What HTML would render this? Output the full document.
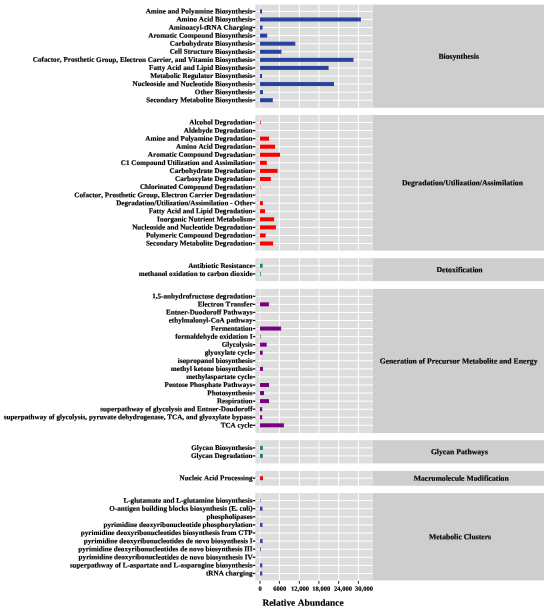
<!DOCTYPE html><html><head><meta charset="utf-8"><style>html,body{margin:0;padding:0;background:#fff;}svg{display:block;}text{font-family:"Liberation Serif",serif;font-weight:bold;fill:#000;stroke:#000;stroke-width:0.18px;font-kerning:none;text-rendering:geometricPrecision;}</style></head><body>
<svg width="550" height="611" viewBox="0 0 550 611">
<rect x="0" y="0" width="550" height="611" fill="#fff"/>
<rect x="255.3" y="4.60" width="117.70" height="103.20" fill="#dddddd"/>
<rect x="373" y="4.60" width="171.00" height="103.20" fill="#cecece"/>
<rect x="259.50" y="4.60" width="1" height="103.20" fill="#fff" fill-opacity="0.55"/>
<rect x="278.90" y="4.60" width="1" height="103.20" fill="#fff" fill-opacity="1"/>
<rect x="298.90" y="4.60" width="1" height="103.20" fill="#fff" fill-opacity="1"/>
<rect x="318.40" y="4.60" width="1" height="103.20" fill="#fff" fill-opacity="1"/>
<rect x="338.10" y="4.60" width="1" height="103.20" fill="#fff" fill-opacity="1"/>
<rect x="357.90" y="4.60" width="1" height="103.20" fill="#fff" fill-opacity="1"/>
<rect x="255.3" y="10.90" width="117.70" height="1" fill="#fff"/>
<rect x="260.0" y="9.40" width="2.00" height="4.0" fill="#28439a"/>
<rect x="252.8" y="10.75" width="2.50" height="1.3" fill="#1a1a1a"/>
<rect x="255.3" y="18.97" width="117.70" height="1" fill="#fff"/>
<rect x="260.0" y="17.47" width="100.90" height="4.0" fill="#28439a"/>
<rect x="252.8" y="18.82" width="2.50" height="1.3" fill="#1a1a1a"/>
<rect x="255.3" y="27.05" width="117.70" height="1" fill="#fff"/>
<rect x="260.0" y="25.55" width="2.50" height="4.0" fill="#28439a"/>
<rect x="252.8" y="26.90" width="2.50" height="1.3" fill="#1a1a1a"/>
<rect x="255.3" y="35.12" width="117.70" height="1" fill="#fff"/>
<rect x="260.0" y="33.62" width="7.20" height="4.0" fill="#28439a"/>
<rect x="252.8" y="34.97" width="2.50" height="1.3" fill="#1a1a1a"/>
<rect x="255.3" y="43.19" width="117.70" height="1" fill="#fff"/>
<rect x="260.0" y="41.69" width="35.30" height="4.0" fill="#28439a"/>
<rect x="252.8" y="43.04" width="2.50" height="1.3" fill="#1a1a1a"/>
<rect x="255.3" y="51.27" width="117.70" height="1" fill="#fff"/>
<rect x="260.0" y="49.77" width="21.40" height="4.0" fill="#28439a"/>
<rect x="252.8" y="51.12" width="2.50" height="1.3" fill="#1a1a1a"/>
<rect x="255.3" y="59.34" width="117.70" height="1" fill="#fff"/>
<rect x="260.0" y="57.84" width="93.50" height="4.0" fill="#28439a"/>
<rect x="252.8" y="59.19" width="2.50" height="1.3" fill="#1a1a1a"/>
<rect x="255.3" y="67.41" width="117.70" height="1" fill="#fff"/>
<rect x="260.0" y="65.91" width="68.60" height="4.0" fill="#28439a"/>
<rect x="252.8" y="67.26" width="2.50" height="1.3" fill="#1a1a1a"/>
<rect x="255.3" y="75.48" width="117.70" height="1" fill="#fff"/>
<rect x="260.0" y="73.98" width="2.00" height="4.0" fill="#28439a"/>
<rect x="252.8" y="75.33" width="2.50" height="1.3" fill="#1a1a1a"/>
<rect x="255.3" y="83.56" width="117.70" height="1" fill="#fff"/>
<rect x="260.0" y="82.06" width="74.00" height="4.0" fill="#28439a"/>
<rect x="252.8" y="83.41" width="2.50" height="1.3" fill="#1a1a1a"/>
<rect x="255.3" y="91.63" width="117.70" height="1" fill="#fff"/>
<rect x="260.0" y="90.13" width="3.00" height="4.0" fill="#28439a"/>
<rect x="252.8" y="91.48" width="2.50" height="1.3" fill="#1a1a1a"/>
<rect x="255.3" y="99.70" width="117.70" height="1" fill="#fff"/>
<rect x="260.0" y="98.20" width="12.80" height="4.0" fill="#28439a"/>
<rect x="252.8" y="99.55" width="2.50" height="1.3" fill="#1a1a1a"/>
<rect x="255.3" y="114.95" width="117.70" height="135.65" fill="#dddddd"/>
<rect x="373" y="114.95" width="171.00" height="135.65" fill="#cecece"/>
<rect x="259.50" y="114.95" width="1" height="135.65" fill="#fff" fill-opacity="0.55"/>
<rect x="278.90" y="114.95" width="1" height="135.65" fill="#fff" fill-opacity="1"/>
<rect x="298.90" y="114.95" width="1" height="135.65" fill="#fff" fill-opacity="1"/>
<rect x="318.40" y="114.95" width="1" height="135.65" fill="#fff" fill-opacity="1"/>
<rect x="338.10" y="114.95" width="1" height="135.65" fill="#fff" fill-opacity="1"/>
<rect x="357.90" y="114.95" width="1" height="135.65" fill="#fff" fill-opacity="1"/>
<rect x="255.3" y="122.00" width="117.70" height="1" fill="#fff"/>
<rect x="260.0" y="120.50" width="0.70" height="4.0" fill="#ff0000"/>
<rect x="252.8" y="121.85" width="2.50" height="1.3" fill="#1a1a1a"/>
<rect x="255.3" y="130.07" width="117.70" height="1" fill="#fff"/>
<rect x="252.8" y="129.92" width="2.50" height="1.3" fill="#1a1a1a"/>
<rect x="255.3" y="138.13" width="117.70" height="1" fill="#fff"/>
<rect x="260.0" y="136.63" width="9.00" height="4.0" fill="#ff0000"/>
<rect x="252.8" y="137.98" width="2.50" height="1.3" fill="#1a1a1a"/>
<rect x="255.3" y="146.20" width="117.70" height="1" fill="#fff"/>
<rect x="260.0" y="144.70" width="15.10" height="4.0" fill="#ff0000"/>
<rect x="252.8" y="146.05" width="2.50" height="1.3" fill="#1a1a1a"/>
<rect x="255.3" y="154.27" width="117.70" height="1" fill="#fff"/>
<rect x="260.0" y="152.77" width="20.00" height="4.0" fill="#ff0000"/>
<rect x="252.8" y="154.12" width="2.50" height="1.3" fill="#1a1a1a"/>
<rect x="255.3" y="162.34" width="117.70" height="1" fill="#fff"/>
<rect x="260.0" y="160.84" width="6.80" height="4.0" fill="#ff0000"/>
<rect x="252.8" y="162.19" width="2.50" height="1.3" fill="#1a1a1a"/>
<rect x="255.3" y="170.40" width="117.70" height="1" fill="#fff"/>
<rect x="260.0" y="168.90" width="17.60" height="4.0" fill="#ff0000"/>
<rect x="252.8" y="170.25" width="2.50" height="1.3" fill="#1a1a1a"/>
<rect x="255.3" y="178.47" width="117.70" height="1" fill="#fff"/>
<rect x="260.0" y="176.97" width="10.80" height="4.0" fill="#ff0000"/>
<rect x="252.8" y="178.32" width="2.50" height="1.3" fill="#1a1a1a"/>
<rect x="255.3" y="186.54" width="117.70" height="1" fill="#fff"/>
<rect x="260.0" y="185.04" width="0.30" height="4.0" fill="#ff0000"/>
<rect x="252.8" y="186.39" width="2.50" height="1.3" fill="#1a1a1a"/>
<rect x="255.3" y="194.60" width="117.70" height="1" fill="#fff"/>
<rect x="252.8" y="194.45" width="2.50" height="1.3" fill="#1a1a1a"/>
<rect x="255.3" y="202.67" width="117.70" height="1" fill="#fff"/>
<rect x="260.0" y="201.17" width="2.90" height="4.0" fill="#ff0000"/>
<rect x="252.8" y="202.52" width="2.50" height="1.3" fill="#1a1a1a"/>
<rect x="255.3" y="210.74" width="117.70" height="1" fill="#fff"/>
<rect x="260.0" y="209.24" width="5.00" height="4.0" fill="#ff0000"/>
<rect x="252.8" y="210.59" width="2.50" height="1.3" fill="#1a1a1a"/>
<rect x="255.3" y="218.80" width="117.70" height="1" fill="#fff"/>
<rect x="260.0" y="217.30" width="14.10" height="4.0" fill="#ff0000"/>
<rect x="252.8" y="218.65" width="2.50" height="1.3" fill="#1a1a1a"/>
<rect x="255.3" y="226.87" width="117.70" height="1" fill="#fff"/>
<rect x="260.0" y="225.37" width="15.90" height="4.0" fill="#ff0000"/>
<rect x="252.8" y="226.72" width="2.50" height="1.3" fill="#1a1a1a"/>
<rect x="255.3" y="234.94" width="117.70" height="1" fill="#fff"/>
<rect x="260.0" y="233.44" width="5.60" height="4.0" fill="#ff0000"/>
<rect x="252.8" y="234.79" width="2.50" height="1.3" fill="#1a1a1a"/>
<rect x="255.3" y="243.00" width="117.70" height="1" fill="#fff"/>
<rect x="260.0" y="241.50" width="13.10" height="4.0" fill="#ff0000"/>
<rect x="252.8" y="242.85" width="2.50" height="1.3" fill="#1a1a1a"/>
<rect x="255.3" y="258.20" width="117.70" height="22.90" fill="#dddddd"/>
<rect x="373" y="258.20" width="171.00" height="22.90" fill="#cecece"/>
<rect x="259.50" y="258.20" width="1" height="22.90" fill="#fff" fill-opacity="0.55"/>
<rect x="278.90" y="258.20" width="1" height="22.90" fill="#fff" fill-opacity="1"/>
<rect x="298.90" y="258.20" width="1" height="22.90" fill="#fff" fill-opacity="1"/>
<rect x="318.40" y="258.20" width="1" height="22.90" fill="#fff" fill-opacity="1"/>
<rect x="338.10" y="258.20" width="1" height="22.90" fill="#fff" fill-opacity="1"/>
<rect x="357.90" y="258.20" width="1" height="22.90" fill="#fff" fill-opacity="1"/>
<rect x="255.3" y="265.30" width="117.70" height="1" fill="#fff"/>
<rect x="260.0" y="263.80" width="2.60" height="4.0" fill="#0c8f42"/>
<rect x="252.8" y="265.15" width="2.50" height="1.3" fill="#1a1a1a"/>
<rect x="255.3" y="273.40" width="117.70" height="1" fill="#fff"/>
<rect x="260.0" y="271.90" width="0.80" height="4.0" fill="#0c8f42"/>
<rect x="252.8" y="273.25" width="2.50" height="1.3" fill="#1a1a1a"/>
<rect x="255.3" y="288.90" width="117.70" height="144.10" fill="#dddddd"/>
<rect x="373" y="288.90" width="171.00" height="144.10" fill="#cecece"/>
<rect x="259.50" y="288.90" width="1" height="144.10" fill="#fff" fill-opacity="0.55"/>
<rect x="278.90" y="288.90" width="1" height="144.10" fill="#fff" fill-opacity="1"/>
<rect x="298.90" y="288.90" width="1" height="144.10" fill="#fff" fill-opacity="1"/>
<rect x="318.40" y="288.90" width="1" height="144.10" fill="#fff" fill-opacity="1"/>
<rect x="338.10" y="288.90" width="1" height="144.10" fill="#fff" fill-opacity="1"/>
<rect x="357.90" y="288.90" width="1" height="144.10" fill="#fff" fill-opacity="1"/>
<rect x="255.3" y="295.80" width="117.70" height="1" fill="#fff"/>
<rect x="252.8" y="295.65" width="2.50" height="1.3" fill="#1a1a1a"/>
<rect x="255.3" y="303.86" width="117.70" height="1" fill="#fff"/>
<rect x="260.0" y="302.36" width="8.90" height="4.0" fill="#7a0082"/>
<rect x="252.8" y="303.71" width="2.50" height="1.3" fill="#1a1a1a"/>
<rect x="255.3" y="311.93" width="117.70" height="1" fill="#fff"/>
<rect x="252.8" y="311.78" width="2.50" height="1.3" fill="#1a1a1a"/>
<rect x="255.3" y="319.99" width="117.70" height="1" fill="#fff"/>
<rect x="252.8" y="319.84" width="2.50" height="1.3" fill="#1a1a1a"/>
<rect x="255.3" y="328.06" width="117.70" height="1" fill="#fff"/>
<rect x="260.0" y="326.56" width="21.10" height="4.0" fill="#7a0082"/>
<rect x="252.8" y="327.91" width="2.50" height="1.3" fill="#1a1a1a"/>
<rect x="255.3" y="336.12" width="117.70" height="1" fill="#fff"/>
<rect x="260.0" y="334.62" width="0.50" height="4.0" fill="#7a0082"/>
<rect x="252.8" y="335.97" width="2.50" height="1.3" fill="#1a1a1a"/>
<rect x="255.3" y="344.18" width="117.70" height="1" fill="#fff"/>
<rect x="260.0" y="342.68" width="6.70" height="4.0" fill="#7a0082"/>
<rect x="252.8" y="344.03" width="2.50" height="1.3" fill="#1a1a1a"/>
<rect x="255.3" y="352.25" width="117.70" height="1" fill="#fff"/>
<rect x="260.0" y="350.75" width="2.70" height="4.0" fill="#7a0082"/>
<rect x="252.8" y="352.10" width="2.50" height="1.3" fill="#1a1a1a"/>
<rect x="255.3" y="360.31" width="117.70" height="1" fill="#fff"/>
<rect x="252.8" y="360.16" width="2.50" height="1.3" fill="#1a1a1a"/>
<rect x="255.3" y="368.38" width="117.70" height="1" fill="#fff"/>
<rect x="260.0" y="366.88" width="2.90" height="4.0" fill="#7a0082"/>
<rect x="252.8" y="368.23" width="2.50" height="1.3" fill="#1a1a1a"/>
<rect x="255.3" y="376.44" width="117.70" height="1" fill="#fff"/>
<rect x="252.8" y="376.29" width="2.50" height="1.3" fill="#1a1a1a"/>
<rect x="255.3" y="384.50" width="117.70" height="1" fill="#fff"/>
<rect x="260.0" y="383.00" width="9.00" height="4.0" fill="#7a0082"/>
<rect x="252.8" y="384.35" width="2.50" height="1.3" fill="#1a1a1a"/>
<rect x="255.3" y="392.57" width="117.70" height="1" fill="#fff"/>
<rect x="260.0" y="391.07" width="4.00" height="4.0" fill="#7a0082"/>
<rect x="252.8" y="392.42" width="2.50" height="1.3" fill="#1a1a1a"/>
<rect x="255.3" y="400.63" width="117.70" height="1" fill="#fff"/>
<rect x="260.0" y="399.13" width="9.00" height="4.0" fill="#7a0082"/>
<rect x="252.8" y="400.48" width="2.50" height="1.3" fill="#1a1a1a"/>
<rect x="255.3" y="408.70" width="117.70" height="1" fill="#fff"/>
<rect x="260.0" y="407.20" width="2.20" height="4.0" fill="#7a0082"/>
<rect x="252.8" y="408.55" width="2.50" height="1.3" fill="#1a1a1a"/>
<rect x="255.3" y="416.76" width="117.70" height="1" fill="#fff"/>
<rect x="260.0" y="415.26" width="2.20" height="4.0" fill="#7a0082"/>
<rect x="252.8" y="416.61" width="2.50" height="1.3" fill="#1a1a1a"/>
<rect x="255.3" y="424.82" width="117.70" height="1" fill="#fff"/>
<rect x="260.0" y="423.32" width="23.90" height="4.0" fill="#7a0082"/>
<rect x="252.8" y="424.67" width="2.50" height="1.3" fill="#1a1a1a"/>
<rect x="255.3" y="440.20" width="117.70" height="23.20" fill="#dddddd"/>
<rect x="373" y="440.20" width="171.00" height="23.20" fill="#cecece"/>
<rect x="259.50" y="440.20" width="1" height="23.20" fill="#fff" fill-opacity="0.55"/>
<rect x="278.90" y="440.20" width="1" height="23.20" fill="#fff" fill-opacity="1"/>
<rect x="298.90" y="440.20" width="1" height="23.20" fill="#fff" fill-opacity="1"/>
<rect x="318.40" y="440.20" width="1" height="23.20" fill="#fff" fill-opacity="1"/>
<rect x="338.10" y="440.20" width="1" height="23.20" fill="#fff" fill-opacity="1"/>
<rect x="357.90" y="440.20" width="1" height="23.20" fill="#fff" fill-opacity="1"/>
<rect x="255.3" y="447.40" width="117.70" height="1" fill="#fff"/>
<rect x="260.0" y="445.90" width="2.80" height="4.0" fill="#0f7f7c"/>
<rect x="252.8" y="447.25" width="2.50" height="1.3" fill="#1a1a1a"/>
<rect x="255.3" y="455.40" width="117.70" height="1" fill="#fff"/>
<rect x="260.0" y="453.90" width="2.80" height="4.0" fill="#0f7f7c"/>
<rect x="252.8" y="455.25" width="2.50" height="1.3" fill="#1a1a1a"/>
<rect x="255.3" y="470.90" width="117.70" height="14.80" fill="#dddddd"/>
<rect x="373" y="470.90" width="171.00" height="14.80" fill="#cecece"/>
<rect x="259.50" y="470.90" width="1" height="14.80" fill="#fff" fill-opacity="0.55"/>
<rect x="278.90" y="470.90" width="1" height="14.80" fill="#fff" fill-opacity="1"/>
<rect x="298.90" y="470.90" width="1" height="14.80" fill="#fff" fill-opacity="1"/>
<rect x="318.40" y="470.90" width="1" height="14.80" fill="#fff" fill-opacity="1"/>
<rect x="338.10" y="470.90" width="1" height="14.80" fill="#fff" fill-opacity="1"/>
<rect x="357.90" y="470.90" width="1" height="14.80" fill="#fff" fill-opacity="1"/>
<rect x="255.3" y="477.70" width="117.70" height="1" fill="#fff"/>
<rect x="260.0" y="476.20" width="3.00" height="4.0" fill="#e0101e"/>
<rect x="252.8" y="477.55" width="2.50" height="1.3" fill="#1a1a1a"/>
<rect x="255.3" y="493.10" width="117.70" height="87.30" fill="#dddddd"/>
<rect x="373" y="493.10" width="171.00" height="87.30" fill="#cecece"/>
<rect x="259.50" y="493.10" width="1" height="87.30" fill="#fff" fill-opacity="0.55"/>
<rect x="278.90" y="493.10" width="1" height="87.30" fill="#fff" fill-opacity="1"/>
<rect x="298.90" y="493.10" width="1" height="87.30" fill="#fff" fill-opacity="1"/>
<rect x="318.40" y="493.10" width="1" height="87.30" fill="#fff" fill-opacity="1"/>
<rect x="338.10" y="493.10" width="1" height="87.30" fill="#fff" fill-opacity="1"/>
<rect x="357.90" y="493.10" width="1" height="87.30" fill="#fff" fill-opacity="1"/>
<rect x="255.3" y="500.10" width="117.70" height="1" fill="#fff"/>
<rect x="260.0" y="498.60" width="0.40" height="4.0" fill="#4c3ca0"/>
<rect x="252.8" y="499.95" width="2.50" height="1.3" fill="#1a1a1a"/>
<rect x="255.3" y="508.20" width="117.70" height="1" fill="#fff"/>
<rect x="260.0" y="506.70" width="2.50" height="4.0" fill="#4c3ca0"/>
<rect x="252.8" y="508.05" width="2.50" height="1.3" fill="#1a1a1a"/>
<rect x="255.3" y="516.30" width="117.70" height="1" fill="#fff"/>
<rect x="252.8" y="516.15" width="2.50" height="1.3" fill="#1a1a1a"/>
<rect x="255.3" y="524.40" width="117.70" height="1" fill="#fff"/>
<rect x="260.0" y="522.90" width="2.50" height="4.0" fill="#4c3ca0"/>
<rect x="252.8" y="524.25" width="2.50" height="1.3" fill="#1a1a1a"/>
<rect x="255.3" y="532.50" width="117.70" height="1" fill="#fff"/>
<rect x="252.8" y="532.35" width="2.50" height="1.3" fill="#1a1a1a"/>
<rect x="255.3" y="540.60" width="117.70" height="1" fill="#fff"/>
<rect x="260.0" y="539.10" width="2.60" height="4.0" fill="#4c3ca0"/>
<rect x="252.8" y="540.45" width="2.50" height="1.3" fill="#1a1a1a"/>
<rect x="255.3" y="548.70" width="117.70" height="1" fill="#fff"/>
<rect x="260.0" y="547.20" width="0.80" height="4.0" fill="#4c3ca0"/>
<rect x="252.8" y="548.55" width="2.50" height="1.3" fill="#1a1a1a"/>
<rect x="255.3" y="556.80" width="117.70" height="1" fill="#fff"/>
<rect x="252.8" y="556.65" width="2.50" height="1.3" fill="#1a1a1a"/>
<rect x="255.3" y="564.90" width="117.70" height="1" fill="#fff"/>
<rect x="260.0" y="563.40" width="2.30" height="4.0" fill="#4c3ca0"/>
<rect x="252.8" y="564.75" width="2.50" height="1.3" fill="#1a1a1a"/>
<rect x="255.3" y="573.00" width="117.70" height="1" fill="#fff"/>
<rect x="260.0" y="571.50" width="2.30" height="4.0" fill="#4c3ca0"/>
<rect x="252.8" y="572.85" width="2.50" height="1.3" fill="#1a1a1a"/>
<rect x="259.50" y="581.00" width="1.0" height="2.7" fill="#1a1a1a"/>
<rect x="278.90" y="581.00" width="1.0" height="2.7" fill="#1a1a1a"/>
<rect x="298.90" y="581.00" width="1.0" height="2.7" fill="#1a1a1a"/>
<rect x="318.40" y="581.00" width="1.0" height="2.7" fill="#1a1a1a"/>
<rect x="338.10" y="581.00" width="1.0" height="2.7" fill="#1a1a1a"/>
<rect x="357.90" y="581.00" width="1.0" height="2.7" fill="#1a1a1a"/>
<defs><filter id="bl" x="0" y="0" width="550" height="611" filterUnits="userSpaceOnUse"><feConvolveMatrix order="3" kernelMatrix="0 0 0 0 1 0 0 0 0" divisor="1" preserveAlpha="false"/></filter></defs>
<g class="t" opacity="0.999" filter="url(#bl)"><g transform="matrix(1,0.0005,0,1,0,0)">
<text x="252.6" y="13.404" font-size="7.15" text-anchor="end">Amine and Polyamine Biosynthesis</text>
<text x="252.6" y="21.477" font-size="7.15" text-anchor="end">Amino Acid Biosynthesis</text>
<text x="252.6" y="29.550" font-size="7.15" text-anchor="end">Aminoacyl-tRNA Charging</text>
<text x="252.6" y="37.623" font-size="7.15" text-anchor="end">Aromatic Compound Biosynthesis</text>
<text x="252.6" y="45.696" font-size="7.15" text-anchor="end">Carbohydrate Biosynthesis</text>
<text x="252.6" y="53.769" font-size="7.15" text-anchor="end">Cell Structure Biosynthesis</text>
<text x="252.6" y="61.842" font-size="7.15" text-anchor="end">Cofactor, Prosthetic Group, Electron Carrier, and Vitamin Biosynthesis</text>
<text x="252.6" y="69.915" font-size="7.15" text-anchor="end">Fatty Acid and Lipid Biosynthesis</text>
<text x="252.6" y="77.988" font-size="7.15" text-anchor="end">Metabolic Regulator Biosynthesis</text>
<text x="252.6" y="86.061" font-size="7.15" text-anchor="end">Nucleoside and Nucleotide Biosynthesis</text>
<text x="252.6" y="94.134" font-size="7.15" text-anchor="end">Other Biosynthesis</text>
<text x="252.6" y="102.207" font-size="7.15" text-anchor="end">Secondary Metabolite Biosynthesis</text>
<text x="458.7" y="58.471" font-size="7.7" text-anchor="middle">Biosynthesis</text>
<text x="252.6" y="124.504" font-size="7.15" text-anchor="end">Alcohol Degradation</text>
<text x="252.6" y="132.571" font-size="7.15" text-anchor="end">Aldehyde Degradation</text>
<text x="252.6" y="140.638" font-size="7.15" text-anchor="end">Amine and Polyamine Degradation</text>
<text x="252.6" y="148.705" font-size="7.15" text-anchor="end">Amino Acid Degradation</text>
<text x="252.6" y="156.772" font-size="7.15" text-anchor="end">Aromatic Compound Degradation</text>
<text x="252.6" y="164.839" font-size="7.15" text-anchor="end">C1 Compound Utilization and Assimilation</text>
<text x="252.6" y="172.906" font-size="7.15" text-anchor="end">Carbohydrate Degradation</text>
<text x="252.6" y="180.973" font-size="7.15" text-anchor="end">Carboxylate Degradation</text>
<text x="252.6" y="189.040" font-size="7.15" text-anchor="end">Chlorinated Compound Degradation</text>
<text x="252.6" y="197.107" font-size="7.15" text-anchor="end">Cofactor, Prosthetic Group, Electron Carrier Degradation</text>
<text x="252.6" y="205.174" font-size="7.15" text-anchor="end">Degradation/Utilization/Assimilation - Other</text>
<text x="252.6" y="213.241" font-size="7.15" text-anchor="end">Fatty Acid and Lipid Degradation</text>
<text x="252.6" y="221.308" font-size="7.15" text-anchor="end">Inorganic Nutrient Metabolism</text>
<text x="252.6" y="229.375" font-size="7.15" text-anchor="end">Nucleoside and Nucleotide Degradation</text>
<text x="252.6" y="237.442" font-size="7.15" text-anchor="end">Polymeric Compound Degradation</text>
<text x="252.6" y="245.509" font-size="7.15" text-anchor="end">Secondary Metabolite Degradation</text>
<text x="462.5" y="185.044" font-size="7.7" text-anchor="middle">Degradation/Utilization/Assimilation</text>
<text x="252.6" y="267.804" font-size="7.15" text-anchor="end">Antibiotic Resistance</text>
<text x="252.6" y="275.904" font-size="7.15" text-anchor="end">methanol oxidation to carbon dioxide</text>
<text x="459.6" y="271.920" font-size="7.7" text-anchor="middle">Detoxification</text>
<text x="252.6" y="298.304" font-size="7.15" text-anchor="end">1,5-anhydrofructose degradation</text>
<text x="252.6" y="306.368" font-size="7.15" text-anchor="end">Electron Transfer</text>
<text x="252.6" y="314.432" font-size="7.15" text-anchor="end">Entner-Duodoroff Pathways</text>
<text x="252.6" y="322.496" font-size="7.15" text-anchor="end">ethylmalonyl-CoA pathway</text>
<text x="252.6" y="330.560" font-size="7.15" text-anchor="end">Fermentation</text>
<text x="252.6" y="338.624" font-size="7.15" text-anchor="end">formaldehyde oxidation I</text>
<text x="252.6" y="346.688" font-size="7.15" text-anchor="end">Glycolysis</text>
<text x="252.6" y="354.752" font-size="7.15" text-anchor="end">glyoxylate cycle</text>
<text x="252.6" y="362.816" font-size="7.15" text-anchor="end">isopropanol biosynthesis</text>
<text x="252.6" y="370.880" font-size="7.15" text-anchor="end">methyl ketone biosynthesis</text>
<text x="252.6" y="378.944" font-size="7.15" text-anchor="end">methylaspartate cycle</text>
<text x="252.6" y="387.008" font-size="7.15" text-anchor="end">Pentose Phosphate Pathways</text>
<text x="252.6" y="395.072" font-size="7.15" text-anchor="end">Photosynthesis</text>
<text x="252.6" y="403.136" font-size="7.15" text-anchor="end">Respiration</text>
<text x="252.6" y="411.200" font-size="7.15" text-anchor="end">superpathway of glycolysis and Entner-Doudoroff</text>
<text x="252.6" y="419.264" font-size="7.15" text-anchor="end">superpathway of glycolysis, pyruvate dehydrogenase, TCA, and glyoxylate bypass</text>
<text x="252.6" y="427.328" font-size="7.15" text-anchor="end">TCA cycle</text>
<text x="458.6" y="363.221" font-size="7.7" text-anchor="middle">Generation of Precursor Metabolite and Energy</text>
<text x="252.6" y="449.904" font-size="7.15" text-anchor="end">Glycan Biosynthesis</text>
<text x="252.6" y="457.904" font-size="7.15" text-anchor="end">Glycan Degradation</text>
<text x="459.4" y="454.070" font-size="7.7" text-anchor="middle">Glycan Pathways</text>
<text x="252.6" y="480.204" font-size="7.15" text-anchor="end">Nucleic Acid Processing</text>
<text x="461.2" y="480.569" font-size="7.7" text-anchor="middle">Macromolecule Modification</text>
<text x="252.6" y="502.604" font-size="7.15" text-anchor="end">L-glutamate and L-glutamine biosynthesis</text>
<text x="252.6" y="510.704" font-size="7.15" text-anchor="end">O-antigen building blocks biosynthesis (E. coli)</text>
<text x="252.6" y="518.804" font-size="7.15" text-anchor="end">phospholipases</text>
<text x="252.6" y="526.904" font-size="7.15" text-anchor="end">pyrimidine deoxyribonucleotide phosphorylation</text>
<text x="252.6" y="535.004" font-size="7.15" text-anchor="end">pyrimidine deoxyribonucleotides biosynthesis from CTP</text>
<text x="252.6" y="543.104" font-size="7.15" text-anchor="end">pyrimidine deoxyribonucleotides de novo biosynthesis I</text>
<text x="252.6" y="551.204" font-size="7.15" text-anchor="end">pyrimidine deoxyribonucleotides de novo biosynthesis III</text>
<text x="252.6" y="559.304" font-size="7.15" text-anchor="end">pyrimidine deoxyribonucleotides de novo biosynthesis IV</text>
<text x="252.6" y="567.404" font-size="7.15" text-anchor="end">superpathway of L-aspartate and L-asparagine biosynthesis</text>
<text x="252.6" y="575.504" font-size="7.15" text-anchor="end">tRNA charging</text>
<text x="460.0" y="539.020" font-size="7.7" text-anchor="middle">Metabolic Clusters</text>
<text x="258.4" y="590.571" font-size="6.5">0</text>
<text x="273.2" y="590.563" font-size="6.5">6000</text>
<text x="291.0" y="590.555" font-size="6.5">12,000</text>
<text x="312.3" y="590.544" font-size="6.5">18,000</text>
<text x="334.1" y="590.533" font-size="6.5">24,000</text>
<text x="355.0" y="590.523" font-size="6.5">30,000</text>
<text x="262.4" y="605.649" font-size="9.42">Relative Abundance</text>
</g></g>
</svg></body></html>
